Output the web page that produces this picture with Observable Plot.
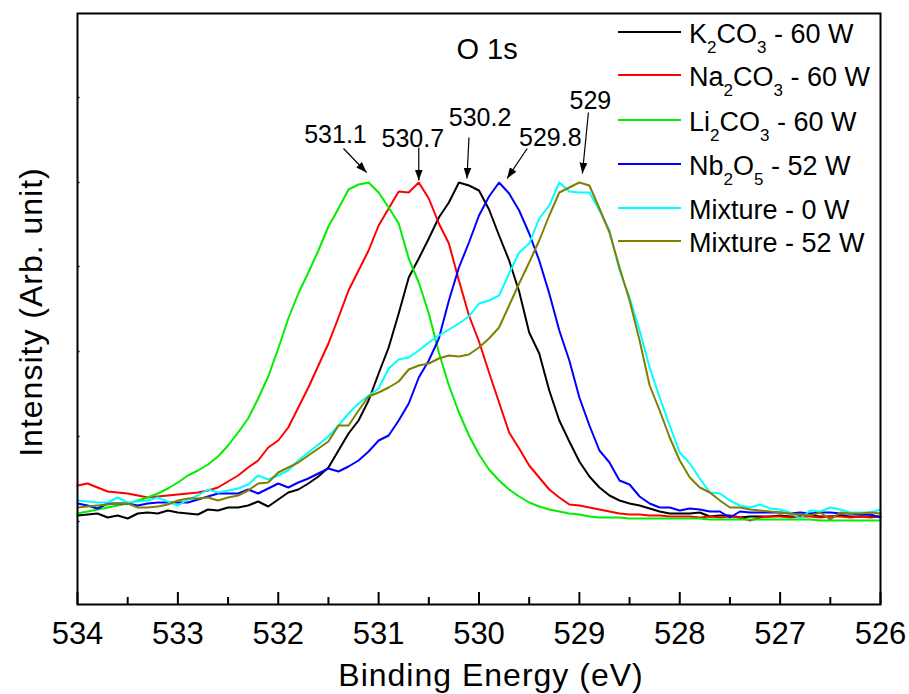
<!DOCTYPE html>
<html>
<head>
<meta charset="utf-8">
<script src="https://cdn.jsdelivr.net/npm/d3@7"></script>
<script src="https://cdn.jsdelivr.net/npm/@observablehq/plot@0.6"></script>
<style>
  body { margin: 0; background: #fff; }
  #chart { width: 909px; height: 694px; }
  svg text { white-space: pre; }
</style>
</head>
<body>
<div id="chart"></div>
<script>
// ---------- data ----------
const energies = [
  534.0, 533.9, 533.8, 533.7, 533.6, 533.5, 533.4, 533.3, 533.2, 533.1,
  533.0, 532.9, 532.8, 532.7, 532.6, 532.5, 532.4, 532.3, 532.2, 532.1,
  532.0, 531.9, 531.8, 531.7, 531.6, 531.5, 531.4, 531.3, 531.2, 531.1,
  531.0, 530.9, 530.8, 530.7, 530.6, 530.5, 530.4, 530.3, 530.2, 530.1,
  530.0, 529.9, 529.8, 529.7, 529.6, 529.5, 529.4, 529.3, 529.2, 529.1,
  529.0, 528.9, 528.8, 528.7, 528.6, 528.5, 528.4, 528.3, 528.2, 528.1,
  528.0, 527.9, 527.8, 527.7, 527.6, 527.5, 527.4, 527.3, 527.2, 527.1,
  527.0, 526.9, 526.8, 526.7, 526.6, 526.5, 526.4, 526.3, 526.2, 526.1,
  526.0
];

const k2co3 = [
  89, 90, 91, 87, 89, 86, 91, 92, 91, 94,
  92, 91, 90, 95, 94, 97, 97, 99, 103, 98,
  105, 112, 115, 121, 128, 137, 154, 171, 184, 204,
  231, 257, 291, 327, 346, 366, 387, 402, 422, 419,
  414, 395, 369, 344, 313, 272, 251, 214, 184, 163,
  143, 128, 117, 109, 104, 101, 99, 96, 93, 91,
  91, 91, 92, 88, 89, 89, 87, 88, 88, 88,
  89, 88, 88, 89, 88, 88, 89, 88, 88, 88,
  88
];

const na2co3 = [
  119, 121, 117, 113, 112, 111, 109, 107, 108, 109,
  110, 111, 112, 114, 117, 123, 129, 137, 144, 157,
  164, 177, 197, 217, 239, 261, 287, 314, 334, 354,
  379, 396, 413, 412, 422, 406, 381, 361, 324, 289,
  263, 232, 202, 172, 156, 139, 127, 115, 107, 100,
  99, 97, 95, 93, 91, 90, 90, 89, 89, 88,
  88, 88, 87, 88, 87, 88, 87, 84, 87, 88,
  88, 87, 88, 88, 87, 88, 88, 87, 88, 87,
  88
];

const li2co3 = [
  91, 93, 95, 97, 99, 101, 104, 107, 111, 116,
  122, 129, 134, 140, 148, 159, 172, 186, 206, 228,
  256, 286, 311, 332, 354, 378, 396, 415, 420, 422,
  412, 397, 381, 346, 322, 291, 252, 219, 192, 169,
  150, 135, 124, 115, 108, 102, 98, 95, 93, 91,
  90, 88, 87, 87, 87, 86, 86, 86, 86, 86,
  86, 86, 86, 85, 85, 85, 85, 85, 85, 85,
  85, 85, 85, 85, 84, 84, 84, 84, 84, 84,
  84
];

const nb2o5 = [
  101, 99, 96, 101, 101, 101, 99, 101, 102, 102,
  102, 102, 105, 108, 111, 111, 111, 115, 111, 116,
  121, 117, 122, 126, 131, 136, 133, 138, 144, 153,
  164, 169, 184, 201, 227, 244, 266, 304, 337, 362,
  389, 408, 422, 411, 394, 371, 344, 311, 274, 244,
  207, 179, 154, 142, 124, 120, 108, 101, 97, 97,
  94, 96, 95, 93, 93, 87, 93, 92, 92, 92,
  92, 91, 92, 91, 92, 92, 91, 91, 90, 90,
  87
];

const mixture0 = [
  104, 103, 102, 102, 107, 102, 103, 104, 107, 103,
  99, 105, 109, 115, 112, 114, 116, 120, 129, 125,
  129, 134, 144, 152, 160, 168, 179, 191, 201, 209,
  216, 236, 245, 247, 254, 262, 269, 275, 281, 288,
  301, 304, 309, 331, 352, 361, 386, 399, 422, 413,
  412, 412, 394, 374, 334, 307, 274, 237, 207, 179,
  152, 141, 126, 112, 111, 104, 99, 97, 100, 96,
  95, 92, 86, 94, 93, 97, 95, 92, 92, 92,
  95
];

const mixture52 = [
  97, 98, 99, 100, 101, 101, 97, 97, 98, 100,
  104, 106, 106, 107, 104, 107, 109, 114, 121, 122,
  132, 137, 142, 149, 156, 163, 179, 179, 194, 208,
  212, 217, 223, 235, 239, 241, 246, 249, 248, 250,
  257, 266, 277, 299, 321, 342, 364, 389, 412, 417,
  422, 419, 396, 372, 337, 304, 264, 219, 194, 167,
  144, 127, 117, 112, 104, 97, 97, 95, 94, 93,
  92, 91, 90, 89, 92, 85, 92, 91, 91, 92,
  91
];

const seriesNames = ["K2CO3 - 60 W", "Na2CO3 - 60 W", "Li2CO3 - 60 W", "Nb2O5 - 52 W", "Mixture - 0 W", "Mixture - 52 W"];
const seriesColors = ["#000000", "#ff0000", "#00ee00", "#0000ff", "#00ffff", "#808000"];
const seriesValues = [k2co3, na2co3, li2co3, nb2o5, mixture0, mixture52];

// legend text pieces: [text, isSubscript]
const legendParts = [
  [["K", 0], ["2", 1], ["CO", 0], ["3", 1], [" - 60 W", 0]],
  [["Na", 0], ["2", 1], ["CO", 0], ["3", 1], [" - 60 W", 0]],
  [["Li", 0], ["2", 1], ["CO", 0], ["3", 1], [" - 60 W", 0]],
  [["Nb", 0], ["2", 1], ["O", 0], ["5", 1], [" - 52 W", 0]],
  [["Mixture - 0 W", 0]],
  [["Mixture - 52 W", 0]]
];

const xTicks = [534, 533, 532, 531, 530, 529, 528, 527, 526];
const xMinorTicks = [533.5, 532.5, 531.5, 530.5, 529.5, 528.5, 527.5, 526.5];
const yTicks = [83, 168, 253, 338, 422, 507];

// peak annotations
const peakLabels = ["531.1", "530.7", "530.2", "529.8", "529"];
const peakLabelE = [531.43, 530.66, 529.99, 529.29, 528.89];
const peakLabelI = [462, 458, 479, 459, 496];
const arrowE1 = [531.35, 530.60, 530.10, 529.52, 528.91];
const arrowI1 = [456, 457, 467, 456, 492];
const arrowE2 = [531.12, 530.60, 530.12, 529.72, 528.97];
const arrowI2 = [432, 424, 426, 426, 431];

const titleText = "O 1s";
const titleE = 529.92, titleI = 546;

// ---------- build tables ----------
const rows = [];
seriesValues.forEach((vals, s) => vals.forEach((v, i) => rows.push({E: energies[i], I: v, series: seriesNames[s]})));
const annots = peakLabels.map((t, i) => ({t, x: peakLabelE[i], y: peakLabelI[i]}));
const arrows = peakLabels.map((t, i) => ({x1: arrowE1[i], y1: arrowI1[i], x2: arrowE2[i], y2: arrowI2[i]}));

const FONT = "'Liberation Sans', Arial, Helvetica, sans-serif";

function filledHead(color, context) {
  const doc = (context && context.document) || document;
  const m = doc.createElementNS("http://www.w3.org/2000/svg", "marker");
  m.setAttribute("viewBox", "0 -5 10 10");
  m.setAttribute("refX", "10");
  m.setAttribute("refY", "0");
  m.setAttribute("markerWidth", "9");
  m.setAttribute("markerHeight", "9");
  m.setAttribute("orient", "auto");
  const p = doc.createElementNS("http://www.w3.org/2000/svg", "path");
  p.setAttribute("d", "M0,-3.6L10,0L0,3.6Z");
  p.setAttribute("fill", "#000");
  p.setAttribute("stroke", "none");
  m.appendChild(p);
  return m;
}

function build(marker) {
  return Plot.plot({
    width: 909,
    height: 694,
    marginLeft: 77,
    marginRight: 29,
    marginTop: 13,
    marginBottom: 90,
    style: {fontFamily: FONT, background: "#fff", color: "#000", overflow: "visible"},
    x: {domain: [534, 526], axis: null},
    y: {domain: [0, 591], axis: null},
    color: {domain: seriesNames, range: seriesColors},
    marks: [
      Plot.line(rows, {x: "E", y: "I", z: "series", stroke: "series", strokeWidth: 2, strokeLinejoin: "miter"}),
      Plot.ruleX(xTicks, {y1: 0, y2: 12, stroke: "#000", strokeWidth: 2}),
      Plot.ruleX(xMinorTicks, {y1: 0, y2: 7, stroke: "#000", strokeWidth: 2}),
      Plot.ruleY(yTicks, {x1: 534, x2: 533.975, stroke: "#000", strokeWidth: 1.5}),
      Plot.text(xTicks, {x: d => d, y: 0, text: d => String(d), dy: 39, lineAnchor: "bottom", fontSize: 31, fill: "#000"}),
      Plot.text([titleText], {x: titleE, y: titleI, text: d => d, lineAnchor: "bottom", fontSize: 29, fill: "#000"}),
      Plot.text(annots, {x: "x", y: "y", text: "t", lineAnchor: "bottom", fontSize: 25, fill: "#000"}),
      Plot.link(arrows, {x1: "x1", y1: "y1", x2: "x2", y2: "y2", stroke: "#000", strokeWidth: 1.2, markerEnd: marker}),
      Plot.frame({stroke: "#000", strokeWidth: 2})
    ]
  });
}

let chart;
try { chart = build(filledHead); } catch (e) { chart = build("arrow"); }
document.getElementById("chart").appendChild(chart);

// ---------- axis titles and legend ----------
const svg = d3.select(chart);
svg.append("text")
  .attr("x", 491).attr("y", 686)
  .attr("text-anchor", "middle")
  .attr("font-family", FONT).attr("font-size", 32).attr("letter-spacing", 1)
  .attr("fill", "#000")
  .text("Binding Energy (eV)");
svg.append("text")
  .attr("transform", "translate(42,312) rotate(-90)")
  .attr("text-anchor", "middle")
  .attr("font-family", FONT).attr("font-size", 32).attr("letter-spacing", 1)
  .attr("fill", "#000")
  .text("Intensity (Arb. unit)");

const legendLineY = [32, 75, 120, 164, 208, 241];
const lg = svg.append("g").attr("font-family", FONT).attr("font-size", 27)
  .attr("fill", "#000").attr("text-anchor", "start");
legendParts.forEach((parts, i) => {
  const y = legendLineY[i];
  lg.append("line").attr("x1", 618).attr("x2", 681).attr("y1", y).attr("y2", y)
    .attr("stroke", seriesColors[i]).attr("stroke-width", 2);
  const t = lg.append("text").attr("x", 689).attr("y", y + 11).attr("text-anchor", "start");
  let sub = false;
  parts.forEach(([s, isSub]) => {
    const ts = t.append("tspan").text(s);
    if (isSub && !sub) { ts.attr("dy", 10).attr("font-size", 17); sub = true; }
    else if (!isSub && sub) { ts.attr("dy", -10); sub = false; }
    else if (isSub) { ts.attr("font-size", 17); }
  });
});
</script>
</body>
</html>
